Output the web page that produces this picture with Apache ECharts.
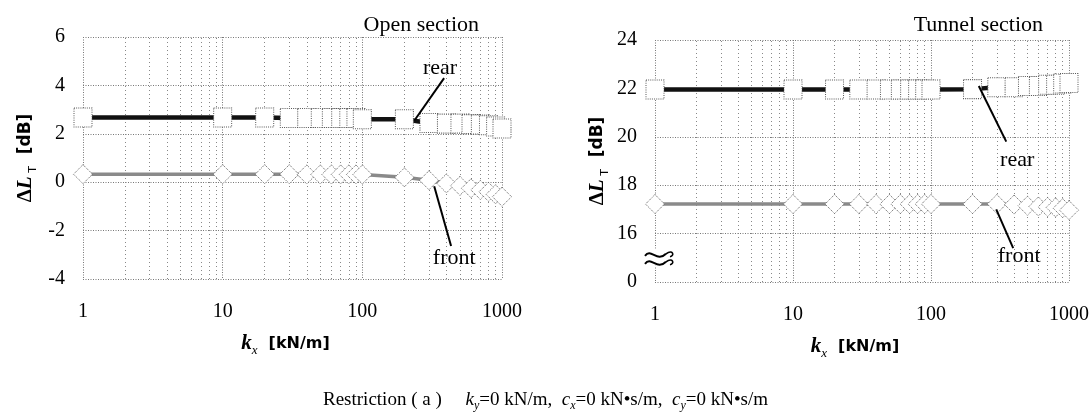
<!DOCTYPE html>
<html><head><meta charset="utf-8">
<script src="https://cdn.jsdelivr.net/npm/echarts@6/dist/echarts.min.js"></script>
<style>html,body{margin:0;padding:0;background:#fff}#c{width:1092px;height:418px}</style>
</head><body><div id="c"></div>
<script>
// ---- data ----
const kx = [1,10,20,30,40,50,60,70,80,90,100,200,300,400,500,600,700,800,900,1000];
const openRear    = [2.67,2.67,2.67,2.65,2.65,2.65,2.65,2.65,2.65,2.65,2.6,2.6,2.45,2.42,2.42,2.4,2.38,2.35,2.3,2.22];
const openFront   = [0.33,0.33,0.33,0.33,0.32,0.32,0.32,0.32,0.32,0.32,0.32,0.2,0.08,-0.05,-0.15,-0.25,-0.32,-0.4,-0.5,-0.6];
const tunnelRear  = [21.95,21.95,21.95,21.95,21.95,21.95,21.95,21.95,21.95,21.95,21.95,21.97,22.05,22.05,22.1,22.1,22.15,22.15,22.2,22.22];
const tunnelFront = [17.22,17.22,17.22,17.22,17.22,17.22,17.22,17.22,17.22,17.22,17.22,17.22,17.22,17.2,17.15,17.12,17.1,17.08,17.05,16.97];
const minorX = [2,3,4,5,6,7,8,9,20,30,40,50,60,70,80,90,200,300,400,500,600,700,800,900];
const xTickLabels = ['1','10','100','1000'];
const openYTickLabels = ['-4','-2','0','2','4','6'];
const tunnelYTickLabels = ['0','16','18','20','22','24'];
// annotation anchors (data coords): [lineStart, lineEnd, textPos]
const openRearNote   = [[385,4.3],[236,2.55],[360,4.7]];
const openFrontNote  = [[327,-0.17],[432,-2.64],[455,-3.15]];
const tunnelRearNote = [[351,19.8],[222,22.1],[421,19.05]];
const tunnelFrontNote= [[297,17.0],[394,15.4],[435,15.05]];
const breakAt = [1, 15];

const SERIF = "'Liberation Serif', 'DejaVu Serif', serif";
const SANS = "'DejaVu Sans', sans-serif";
const pair = (xs, ys) => xs.map((x,i)=>[x, ys[i]]);

function xAxisCfg(gi){
  return {
    type:'log', logBase:10, min:1, max:1000, gridIndex:gi,
    axisLine:{show:false}, axisTick:{show:false},
    axisLabel:{margin:23, color:'#000', fontFamily:SERIF, fontSize:20,
      formatter:v=>xTickLabels[Math.round(Math.log10(v))]},
    splitLine:{show:true, lineStyle:{color:'#777', type:[1,1.5], width:1}},
    name:'{k|k}{s|x}{u|  [kN/m]}', nameLocation:'middle', nameGap:52,
    nameTextStyle:{padding:[0,14,0,0], rich:{
      k:{fontFamily:SERIF, fontStyle:'italic', fontWeight:'bold', fontSize:21, color:'#000', lineHeight:26},
      s:{fontFamily:SERIF, fontStyle:'italic', fontSize:13, color:'#000', verticalAlign:'bottom', lineHeight:15},
      u:{fontFamily:SANS, fontWeight:'bold', fontSize:16, color:'#000', lineHeight:26}
    }}
  };
}
function yAxisCfg(gi, min, max, labels){
  return {
    type:'value', min:min, max:max, interval:2, gridIndex:gi,
    axisLine:{show:false}, axisTick:{show:false},
    axisLabel:{margin:18, color:'#000', fontFamily:SERIF, fontSize:20,
      formatter:(v,i)=>labels[Math.round((v-min)/2)]},
    splitLine:{show:true, lineStyle:{color:'#777', type:[1,1.5], width:1}},
    name:'{d|Δ}{l|L}{s| T}{u|  [dB]}', nameLocation:'middle', nameRotate:90, nameGap:44,
    nameTextStyle:{rich:{
      d:{fontFamily:SERIF, fontWeight:'bold', fontSize:21, color:'#000', lineHeight:26},
      l:{fontFamily:SERIF, fontWeight:'bold', fontStyle:'italic', fontSize:21, color:'#000', lineHeight:26},
      s:{fontFamily:SANS, fontSize:11, color:'#000', verticalAlign:'bottom', lineHeight:16},
      u:{fontFamily:SANS, fontWeight:'bold', fontSize:17, color:'#000', lineHeight:26}
    }}
  };
}
function dataSeries(gi, ys, symbol, lineColor, lineW){
  return {
    type:'line', xAxisIndex:gi, yAxisIndex:gi, data:pair(kx, ys), z:3,
    symbol:symbol, symbolSize:symbol==='rect'?[18,19]:[19,19], showAllSymbol:true,
    lineStyle:{color:lineColor, width:lineW},
    itemStyle:{color:'#fff', borderColor:'#555', borderWidth:1, borderType:[1,1.2]},
    emphasis:{disabled:true}, animation:false
  };
}
function gridSeries(gi){
  return {
    type:'line', xAxisIndex:gi, yAxisIndex:gi, data:[], silent:true, z:1,
    markLine:{silent:true, symbol:'none', z:1, animation:false,
      label:{show:false}, lineStyle:{color:'#888', type:[1,3], width:1},
      data:minorX.map(v=>({xAxis:v}))}
  };
}
function noteSeries(gi, notes){
  return {
    type:'line', xAxisIndex:gi, yAxisIndex:gi, data:[], silent:true, z:6,
    markLine:{silent:true, symbol:['none','arrow'], symbolSize:[0,9], z:6, animation:false,
      label:{show:false}, lineStyle:{color:'#000', type:'solid', width:2},
      data:notes.map(n=>[{coord:n.pts[0]},{coord:n.pts[1], symbol:n.arrow?'arrow':'none'}])},
    markPoint:{silent:true, symbol:'rect', symbolSize:1, z:6, animation:false,
      itemStyle:{color:'rgba(0,0,0,0)'},
      label:{show:true, position:'inside', color:'#000', fontFamily:SERIF, fontSize:22, formatter:p=>p.name},
      data:notes.map(n=>({name:n.text, coord:n.pts[2]}))}
  };
}

const chart = echarts.init(document.getElementById('c'), null, {renderer:'canvas'});
const option = {
  animation:false,
  backgroundColor:'#fff',
  grid:[
    {left:83, top:37, width:419, height:242},
    {left:655, top:40, width:416, height:242}
  ],
  title:[
    {text:'Open section', right:1092-484, top:9, textStyle:{fontFamily:SERIF, fontSize:22, fontWeight:'normal', color:'#000'}},
    {text:'Tunnel section', right:1092-1048, top:9, textStyle:{fontFamily:SERIF, fontSize:22, fontWeight:'normal', color:'#000'}},
    {text:'Restriction ( a )     {i|k}{s|y}{n|=0 kN/m,  }{i|c}{s|x}{n|=0 kN•s/m,  }{i|c}{s|y}{n|=0 kN•s/m}',
     left:318, top:383,
     textStyle:{fontFamily:SERIF, fontSize:19, fontWeight:'normal', color:'#000', lineHeight:24,
       rich:{
         i:{fontFamily:SERIF, fontStyle:'italic', fontSize:19, color:'#000', lineHeight:24},
         s:{fontFamily:SERIF, fontStyle:'italic', fontSize:12, color:'#000', verticalAlign:'bottom', lineHeight:15},
         n:{fontFamily:SERIF, fontSize:19, color:'#000', lineHeight:24}
       }}}
  ],
  xAxis:[xAxisCfg(0), xAxisCfg(1)],
  yAxis:[yAxisCfg(0,-4,6,openYTickLabels), yAxisCfg(1,14,24,tunnelYTickLabels)],
  series:[
    gridSeries(0), gridSeries(1),
    dataSeries(0, openFront, 'diamond', '#8a8a8a', 3.5),
    dataSeries(0, openRear, 'rect', '#111', 4.5),
    dataSeries(1, tunnelFront, 'diamond', '#8a8a8a', 3.5),
    dataSeries(1, tunnelRear, 'rect', '#111', 4.5),
    noteSeries(0, [{pts:openRearNote, text:'rear', arrow:true},{pts:openFrontNote, text:'front', arrow:false}]),
    noteSeries(1, [{pts:tunnelRearNote, text:'rear', arrow:true},{pts:tunnelFrontNote, text:'front', arrow:false}])
  ]
};
chart.setOption(option);

// axis-break symbol on the tunnel chart's y axis, placed through the chart's own scale
const bp = chart.convertToPixel({gridIndex:1}, breakAt);
chart.setOption({graphic:[
  {type:'group', x:bp[0]+4, y:bp[1], z:10, children:[
    {type:'rect', shape:{x:-13, y:-9, width:24, height:17}, style:{fill:'#fff'}},
    {type:'bezierCurve', shape:{x1:-14,y1:-2,cpx1:-8,cpy1:-10,cpx2:-2,cpy2:5,x2:7,y2:-4}, style:{stroke:'#000', lineWidth:2, fill:null}},
    {type:'bezierCurve', shape:{x1:-14,y1:6,cpx1:-8,cpy1:-2,cpx2:-2,cpy2:13,x2:7,y2:4}, style:{stroke:'#000', lineWidth:2, fill:null}},
    {type:'bezierCurve', shape:{x1:7,y1:-4,cpx1:14,cpy1:-9,cpx2:16,cpy2:-2,x2:11,y2:-1}, style:{stroke:'#000', lineWidth:1.6, fill:null}},
    {type:'bezierCurve', shape:{x1:7,y1:4,cpx1:14,cpy1:-1,cpx2:16,cpy2:6,x2:11,y2:7}, style:{stroke:'#000', lineWidth:1.6, fill:null}}
  ]}
]});
</script>
</body></html>
